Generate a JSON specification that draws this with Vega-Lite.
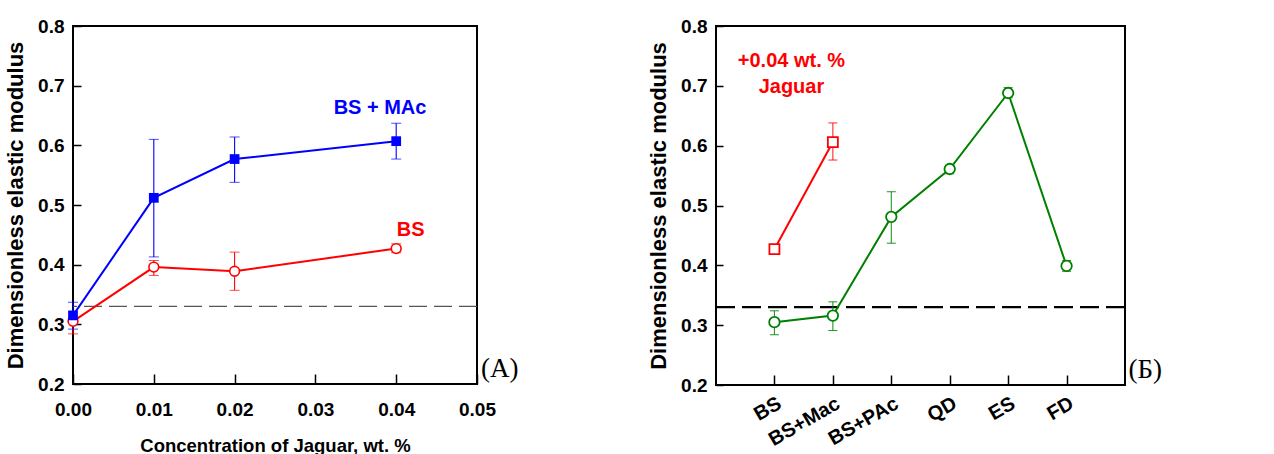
{
  "$schema": "https://vega.github.io/schema/vega-lite/v6.json",
  "padding": {"left": 3, "top": 16, "right": 0, "bottom": 0},
  "background": "white",
  "spacing": 126,
  "resolve": {"scale": {"color": "independent"}},
  "config": {
    "font": "Liberation Sans",
    "view": {"stroke": "black", "strokeWidth": 2},
    "axis": {
      "domain": false, "grid": false, "tickColor": "black", "tickWidth": 1.5, "labelFlush": false,
      "labelColor": "black", "labelFont": "Liberation Sans", "labelFontWeight": "bold", "labelFontSize": 19,
      "titleFont": "Liberation Sans", "titleFontWeight": "bold", "titleColor": "black"
    }
  },
  "datasets": {
    "ref": [{"y": 0.33}],
    "jag": [
      {"conc": 0.0, "series": "BS", "mean": 0.305, "lo": 0.284, "hi": 0.312},
      {"conc": 0.01, "series": "BS", "mean": 0.396, "lo": 0.382, "hi": 0.407},
      {"conc": 0.02, "series": "BS", "mean": 0.389, "lo": 0.357, "hi": 0.421},
      {"conc": 0.04, "series": "BS", "mean": 0.427, "lo": 0.420, "hi": 0.435},
      {"conc": 0.0, "series": "BS + MAc", "mean": 0.315, "lo": 0.292, "hi": 0.337},
      {"conc": 0.01, "series": "BS + MAc", "mean": 0.512, "lo": 0.413, "hi": 0.610},
      {"conc": 0.02, "series": "BS + MAc", "mean": 0.577, "lo": 0.538, "hi": 0.614},
      {"conc": 0.04, "series": "BS + MAc", "mean": 0.607, "lo": 0.577, "hi": 0.637}
    ],
    "jagLabels": [
      {"conc": 0.038, "y": 0.662, "text": "BS + MAc", "series": "BS + MAc"},
      {"conc": 0.0418, "y": 0.458, "text": "BS", "series": "BS"}
    ],
    "panelA": [{"conc": 0.05, "y": 0.2, "text": "(A)"}],
    "bars": [
      {"cat": "BS", "idx": 1, "series": "base", "mean": 0.305, "lo": 0.284, "hi": 0.324},
      {"cat": "BS+Mac", "idx": 2, "series": "base", "mean": 0.316, "lo": 0.291, "hi": 0.339},
      {"cat": "BS+PAc", "idx": 3, "series": "base", "mean": 0.481, "lo": 0.437, "hi": 0.523},
      {"cat": "QD", "idx": 4, "series": "base", "mean": 0.561, "lo": 0.553, "hi": 0.567},
      {"cat": "ES", "idx": 5, "series": "base", "mean": 0.688, "lo": 0.680, "hi": 0.697},
      {"cat": "FD", "idx": 6, "series": "base", "mean": 0.399, "lo": 0.390, "hi": 0.408},
      {"cat": "BS", "idx": 1, "series": "jaguar", "mean": 0.427, "lo": 0.421, "hi": 0.434},
      {"cat": "BS+Mac", "idx": 2, "series": "jaguar", "mean": 0.606, "lo": 0.576, "hi": 0.638}
    ],
    "barLabels": [
      {"cat": "BS", "y": 0.742, "text": "+0.04 wt. %"},
      {"cat": "BS", "y": 0.698, "text": "Jaguar"}
    ],
    "panelB": [{"cat": "FD", "y": 0.2, "text": "(Б)"}]
  },
  "hconcat": [
    {
      "width": 404,
      "height": 358,
      "layer": [
        {
          "data": {"name": "ref"},
          "mark": {"type": "rule", "strokeDash": [18, 7], "color": "#555555", "strokeWidth": 1.2},
          "encoding": {
            "y": {"field": "y", "type": "quantitative", "scale": {"domain": [0.2, 0.8], "nice": false, "zero": false}}
          }
        },
        {
          "data": {"name": "jag"},
          "mark": {"type": "errorbar", "ticks": {"size": 10}, "rule": {"strokeWidth": 1.1}},
          "encoding": {
            "x": {"field": "conc", "type": "quantitative",
              "scale": {"domain": [0, 0.05], "nice": false, "zero": false},
              "axis": {"title": "Concentration of Jaguar, wt. %", "titleFontSize": 18.5, "values": [0, 0.01, 0.02, 0.03, 0.04, 0.05], "format": ".2f", "tickSize": -10, "labelPadding": 26, "titlePadding": 17}},
            "y": {"field": "lo", "type": "quantitative",
              "scale": {"domain": [0.2, 0.8], "nice": false, "zero": false},
              "axis": {"title": "Dimensionless elastic modulus", "titleFontSize": 22, "values": [0.2, 0.3, 0.4, 0.5, 0.6, 0.7, 0.8], "format": ".1f", "tickSize": -8, "labelPadding": 17, "titlePadding": 10}},
            "y2": {"field": "hi"},
            "color": {"field": "series", "type": "nominal", "scale": {"domain": ["BS + MAc", "BS"], "range": ["#0000ff", "#ff0000"]}, "legend": null}
          }
        },
        {
          "data": {"name": "jag"},
          "mark": {"type": "line", "strokeWidth": 2},
          "encoding": {
            "x": {"field": "conc", "type": "quantitative"},
            "y": {"field": "mean", "type": "quantitative"},
            "color": {"field": "series", "type": "nominal", "legend": null}
          }
        },
        {
          "data": {"name": "jag"},
          "transform": [{"filter": "datum.series === 'BS'"}],
          "mark": {"type": "point", "shape": "circle", "filled": true, "fill": "white", "stroke": "#ff0000", "strokeWidth": 1.6, "size": 95, "opacity": 1},
          "encoding": {
            "x": {"field": "conc", "type": "quantitative"},
            "y": {"field": "mean", "type": "quantitative"}
          }
        },
        {
          "data": {"name": "jag"},
          "transform": [{"filter": "datum.series === 'BS + MAc'"}],
          "mark": {"type": "point", "shape": "square", "filled": true, "color": "#0000ff", "size": 95, "opacity": 1},
          "encoding": {
            "x": {"field": "conc", "type": "quantitative"},
            "y": {"field": "mean", "type": "quantitative"}
          }
        },
        {
          "data": {"name": "jagLabels"},
          "mark": {"type": "text", "fontSize": 20, "fontWeight": "bold", "font": "Liberation Sans", "baseline": "middle", "align": "center"},
          "encoding": {
            "x": {"field": "conc", "type": "quantitative"},
            "y": {"field": "y", "type": "quantitative"},
            "text": {"field": "text"},
            "color": {"field": "series", "type": "nominal", "legend": null}
          }
        },
        {
          "data": {"name": "panelA"},
          "mark": {"type": "text", "fontSize": 27, "font": "Liberation Serif", "align": "left", "baseline": "bottom", "dx": 4, "dy": -1, "color": "black"},
          "encoding": {
            "x": {"field": "conc", "type": "quantitative"},
            "y": {"field": "y", "type": "quantitative"},
            "text": {"field": "text"}
          }
        }
      ]
    },
    {
      "width": 409,
      "height": 359,
      "layer": [
        {
          "data": {"name": "ref"},
          "mark": {"type": "rule", "strokeDash": [19, 7], "color": "black", "strokeWidth": 2.2},
          "encoding": {
            "y": {"field": "y", "type": "quantitative", "scale": {"domain": [0.2, 0.8], "nice": false, "zero": false}}
          }
        },
        {
          "data": {"name": "bars"},
          "mark": {"type": "errorbar", "ticks": {"size": 9}, "rule": {"strokeWidth": 1.1}, "opacity": 0.85},
          "encoding": {
            "x": {"field": "cat", "type": "ordinal",
              "scale": {"type": "point", "padding": 1, "domain": ["BS", "BS+Mac", "BS+PAc", "QD", "ES", "FD"]},
              "axis": {"title": null, "labelAngle": -30, "labelAlign": "right", "labelBaseline": "top", "labelFontSize": 20, "tickSize": -10, "labelPadding": 18}},
            "y": {"field": "lo", "type": "quantitative",
              "scale": {"domain": [0.2, 0.8], "nice": false, "zero": false},
              "axis": {"title": "Dimensionless elastic modulus", "titleFontSize": 22, "values": [0.2, 0.3, 0.4, 0.5, 0.6, 0.7, 0.8], "format": ".1f", "tickSize": -7, "labelPadding": 16, "titlePadding": 10}},
            "y2": {"field": "hi"},
            "color": {"field": "series", "type": "nominal", "scale": {"domain": ["base", "jaguar"], "range": ["#008000", "#ff0000"]}, "legend": null}
          }
        },
        {
          "data": {"name": "bars"},
          "mark": {"type": "line", "strokeWidth": 2},
          "encoding": {
            "x": {"field": "cat", "type": "ordinal"},
            "y": {"field": "mean", "type": "quantitative"},
            "order": {"field": "idx", "type": "quantitative"},
            "color": {"field": "series", "type": "nominal", "legend": null}
          }
        },
        {
          "data": {"name": "bars"},
          "transform": [{"filter": "datum.series === 'base'"}],
          "mark": {"type": "point", "shape": "circle", "filled": true, "fill": "white", "stroke": "#008000", "strokeWidth": 1.8, "size": 110, "opacity": 1},
          "encoding": {
            "x": {"field": "cat", "type": "ordinal"},
            "y": {"field": "mean", "type": "quantitative"}
          }
        },
        {
          "data": {"name": "bars"},
          "transform": [{"filter": "datum.series === 'jaguar'"}],
          "mark": {"type": "point", "shape": "square", "filled": true, "fill": "white", "stroke": "#ff0000", "strokeWidth": 1.8, "size": 100, "opacity": 1},
          "encoding": {
            "x": {"field": "cat", "type": "ordinal"},
            "y": {"field": "mean", "type": "quantitative"}
          }
        },
        {
          "data": {"name": "barLabels"},
          "mark": {"type": "text", "fontSize": 20, "fontWeight": "bold", "font": "Liberation Sans", "baseline": "middle", "align": "center", "dx": 17, "color": "#ff0000"},
          "encoding": {
            "x": {"field": "cat", "type": "ordinal"},
            "y": {"field": "y", "type": "quantitative"},
            "text": {"field": "text"}
          }
        },
        {
          "data": {"name": "panelB"},
          "mark": {"type": "text", "fontSize": 27, "font": "Liberation Serif", "align": "left", "baseline": "bottom", "dx": 62, "dy": -1, "color": "black"},
          "encoding": {
            "x": {"field": "cat", "type": "ordinal"},
            "y": {"field": "y", "type": "quantitative"},
            "text": {"field": "text"}
          }
        }
      ]
    }
  ]
}
